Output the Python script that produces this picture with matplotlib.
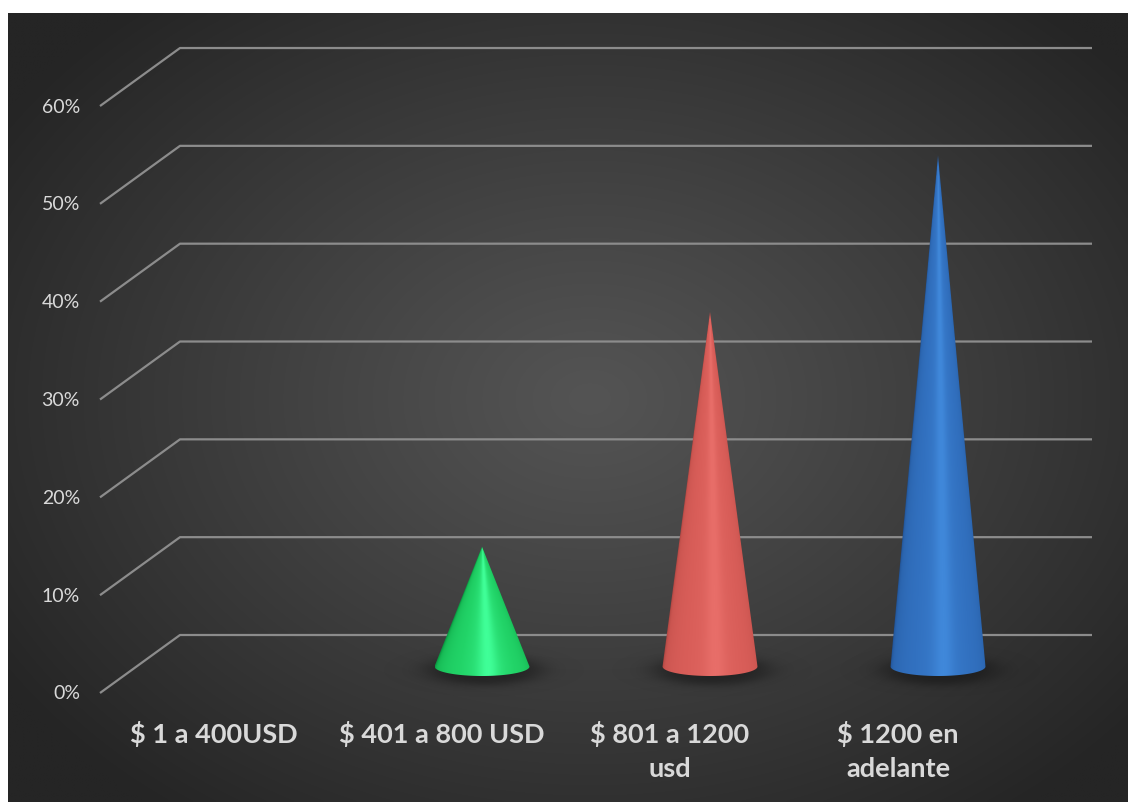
import numpy as np
import matplotlib
matplotlib.use("Agg")
import matplotlib.pyplot as plt
from matplotlib.colors import LinearSegmentedColormap
from matplotlib.patches import Polygon

# ---------------- data ----------------
categories = ["$ 1 a 400USD", "$ 401 a 800 USD", "$ 801 a 1200\nusd", "$ 1200 en\nadelante"]
values = [0, 12, 36, 52]
y_ticks = [0, 10, 20, 30, 40, 50, 60]
y_tick_labels = ["0%", "10%", "20%", "30%", "40%", "50%", "60%"]
cone_colors = [
    ["#0a9a42", "#18bd57", "#22d468", "#40ff98"],
    ["#0a9a42", "#18bd57", "#22d468", "#40ff98"],
    ["#a3403c", "#cb5550", "#d95e59", "#e86e69"],
    ["#1e4c8c", "#2b65af", "#3271c0", "#4088da"],
]

# ---------------- projection parameters (pixels) ----------------
W, H = 1128, 803
front_left_px = 100
px_per_cat = 228
front_zero_px = 694
px_per_pct = 9.783
depth_dx_px, depth_dy_px = 80, 58
base_drop_px = 2.5

dx = depth_dx_px / px_per_cat
dy = depth_dy_px / px_per_pct
ncat = len(categories)

fig = plt.figure(figsize=(W / 100, H / 100), dpi=100, facecolor="white")

# background panel with radial gradient
bg = fig.add_axes([8 / W, 0, 1 - 8 / W, 1 - 14 / H])
bg.set_axis_off()
gx, gy = np.meshgrid(np.linspace(8, W, 400), np.linspace(14, H, 300))
d = np.sqrt(((gx - 590) / 700) ** 2 + ((gy - 400) / 520) ** 2)
d = np.clip(d, 0, 1)
c_center = np.array([0x54, 0x54, 0x54]) / 255
c_edge = np.array([0x25, 0x25, 0x25]) / 255
img = c_center[None, None, :] + (c_edge - c_center)[None, None, :] * (d ** 1.1)[..., None]
bg.imshow(img, extent=[0, 1, 0, 1], origin="upper", aspect="auto", interpolation="bilinear")
bg.set_xlim(0, 1)
bg.set_ylim(0, 1)

ax = fig.add_axes([0, 0, 1, 1])
ax.set_facecolor("none")
ax.set_axis_off()
ax.set_xlim(-front_left_px / px_per_cat, (W - front_left_px) / px_per_cat)
ax.set_ylim((front_zero_px - H) / px_per_pct, front_zero_px / px_per_pct)

# gridlines (floor diagonal + back wall)
grid_col = "#8c8c8c"
for v in y_ticks:
    ax.plot([0, dx, ncat + dx], [v, v + dy, v + dy], color=grid_col, lw=1.6,
            solid_capstyle="butt", zorder=2)

# y tick labels
for v, lab in zip(y_ticks, y_tick_labels):
    ax.text(-20 / px_per_cat, v, lab, ha="right", va="center", color="#d9d9d9",
            fontsize=14, family="Lato")

# category labels
for i, lab in enumerate(categories):
    ax.text(i + 0.5, -27 / px_per_pct, lab, ha="center", va="top", color="#d9d9d9",
            fontsize=19.5, fontweight="bold", family="Lato", linespacing=1.5)

# cones
R = 47.5 / px_per_cat
b = 9.5 / px_per_pct
for i, (v, cols) in enumerate(zip(values, cone_colors)):
    if v <= 0:
        continue
    xc = i + 0.5 + dx / 2
    y0 = dy / 2 - base_drop_px / px_per_pct
    top = v + dy / 2

    # soft shadow
    sa, sb = 74 / px_per_cat, 20 / px_per_pct
    scx, scy = xc + 2 / px_per_cat, y0 - 3 / px_per_pct
    sxs = np.linspace(scx - 1.4 * sa, scx + 1.4 * sa, 200)
    sys_ = np.linspace(scy - 1.4 * sb, scy + 1.4 * sb, 100)
    SX, SY = np.meshgrid(sxs, sys_)
    sd = np.sqrt(((SX - scx) / sa) ** 2 + ((SY - scy) / sb) ** 2)
    alpha = 0.6 / (1 + np.exp((sd - 0.75) / 0.12))
    simg = np.zeros(SX.shape + (4,))
    simg[..., :3] = 0.08
    simg[..., 3] = alpha
    ax.imshow(simg, extent=[sxs[0], sxs[-1], sys_[0], sys_[-1]], origin="lower",
              aspect="auto", interpolation="bilinear", zorder=3)

    # cone body
    xs = np.linspace(xc - R, xc + R, 240)
    ys = np.linspace(y0 - b, top, 700)
    X, Y = np.meshgrid(xs, ys)
    h = top - y0
    r = np.where(Y > y0, R * (top - Y) / h, R)
    r = np.maximum(r, 1e-9)
    u = np.clip((X - xc) / r, -1, 1)
    theta = np.arcsin(u)
    c = np.clip(np.cos(theta - 0.12), 0, 1)
    inten = 0.75 * c ** 0.6 + 0.25 * c ** 40
    cmap = LinearSegmentedColormap.from_list("c%d" % i, cols)
    im = ax.imshow(inten, extent=[xs[0], xs[-1], ys[0], ys[-1]], origin="lower",
                   cmap=cmap, vmin=0.0, vmax=1.0, aspect="auto",
                   interpolation="bilinear", zorder=4)
    t = np.linspace(0, -np.pi, 80)
    pts = [(xc, top), (xc + R, y0)] + [(xc + R * np.cos(tt), y0 + b * np.sin(tt)) for tt in t]
    poly = Polygon(pts, closed=True, transform=ax.transData, facecolor="none", edgecolor="none")
    ax.add_patch(poly)
    im.set_clip_path(poly)

fig.savefig("out.png", dpi=100, facecolor="white")
